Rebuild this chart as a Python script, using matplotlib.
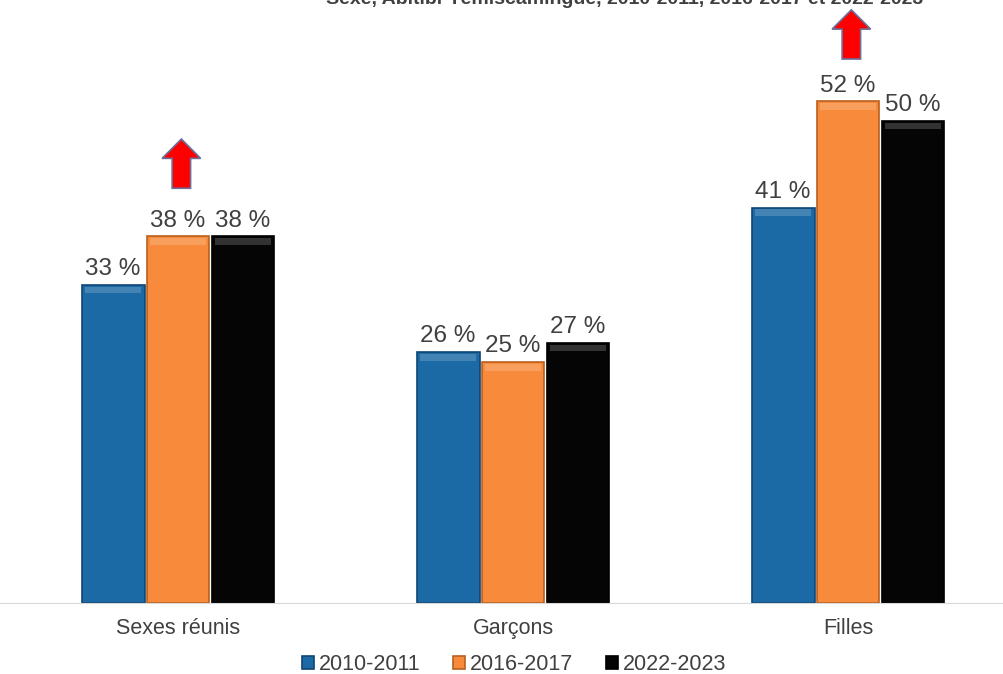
import numpy as np
import matplotlib
matplotlib.use('Agg')
import matplotlib.pyplot as plt

categories = ['Sexes réunis', 'Garçons', 'Filles']
periodes = ['2010-2011', '2016-2017', '2022-2023']
v2010 = [33, 26, 41]
v2016 = [38, 25, 52]
v2022 = [38, 27, 50]
fleches = [0, 2]  # groupes avec une flèche sur 2016-2017

couleurs = ['#1B69A5', '#F78A3B', '#050505']
bords = ['#0E4673', '#B8601F', '#000000']

plt.rcParams['font.family'] = ['Liberation Sans', 'DejaVu Sans']

fig = plt.figure(figsize=(10.04, 6.74), dpi=100)
ax = fig.add_axes([0, 1 - 603 / 674, 1, 603 / 674])

x = np.arange(len(categories))
w = 0.188
pas = 0.194
series = [v2010, v2016, v2022]
for k, vals in enumerate(series):
    pos = x + (k - 1) * pas
    ax.bar(pos, vals, w, color=couleurs[k], edgecolor=bords[k], linewidth=1.2,
           label=periodes[k], zorder=2)
    # petit effet de biseau en haut des barres
    ax.bar(pos, [0.7] * len(vals), w * 0.9, bottom=np.array(vals) - 0.9,
           color='white', alpha=0.18, linewidth=0, zorder=3)
    for p, v in zip(pos, vals):
        ax.text(p, v + 0.5, '%d %%' % v, ha='center', va='bottom',
                fontsize=17.5, color='#404040')

ecarts = [5.0, 4.4]
for g, e in zip(fleches, ecarts):
    px = x[g]
    v = v2016[g]
    ax.add_patch(matplotlib.patches.FancyArrow(
        px + 0.01, v + e, 0, 5.1, width=0.055, head_width=0.115, head_length=2.0,
        length_includes_head=True, facecolor='#FF0000', edgecolor='#6B6F9A',
        linewidth=1.2, zorder=4))

ax.set_xlim(-178 / 335, (1004 - 178) / 335)
ax.set_ylim(0, 603 / 9.645)
for s in ['top', 'right', 'left']:
    ax.spines[s].set_visible(False)
ax.spines['bottom'].set_color('#D9D9D9')
ax.set_yticks([])
ax.set_xticks(x)
ax.set_xticklabels(categories, fontsize=15.5, color='#404040')
ax.tick_params(axis='x', length=0, pad=11)

fig.text(625 / 1004, 1.001, 'Sexe, Abitibi-Témiscamingue, 2010-2011, 2016-2017 et 2022-2023',
         ha='center', va='center', fontsize=14, fontweight='bold', color='#404040')

fig.legend(loc='center', bbox_to_anchor=(0.512, 1 - 665 / 674), ncol=3, frameon=False,
           fontsize=15.5, handlelength=0.55, handleheight=0.55, handletextpad=0.25,
           columnspacing=1.5, labelcolor='#404040', borderpad=0.1)

plt.savefig('out.png', dpi=100)
